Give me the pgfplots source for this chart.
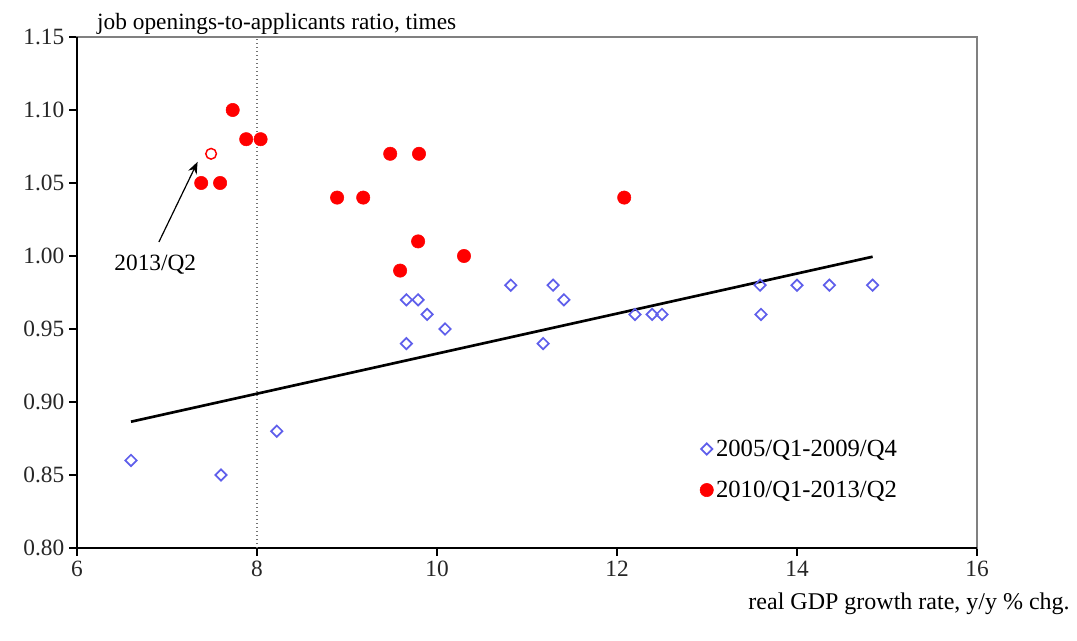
\documentclass[border=0pt]{standalone}
\usepackage{fontspec}
\setmainfont{Liberation Serif}
\usepackage{pgfplots}
\pgfplotsset{compat=1.18}
\usetikzlibrary{arrows.meta}
\definecolor{dblue}{RGB}{95,95,235}
\begin{document}
\begin{tikzpicture}
\useasboundingbox (-57.75pt,-69.75pt) rectangle (750pt,411pt);
\begin{axis}[
  at={(0,0)}, anchor=south west,
  scale only axis, width=675pt, height=383.25pt,
  xmin=6, xmax=16, ymin=0.80, ymax=1.15,
  xtick={6,8,10,12,14,16},
  ytick={0.80,0.85,0.90,0.95,1.00,1.05,1.10,1.15},
  yticklabel style={/pgf/number format/.cd, fixed, fixed zerofill, precision=2},
  /pgf/number format/assume math mode=true,
  tick label style={font=\fontsize{17.5}{20}\selectfont, text=black!85},
  xtick pos=bottom, ytick pos=left,
  tick align=outside, major tick length=6pt,
  tick style={black, line width=1.2pt},
  axis line style={draw=gray, line width=1.5pt},
  clip=false,
  legend style={draw=none, fill=none, at={(0.692,0.1536)}, anchor=west,
    font=\fontsize{18.5}{21}\selectfont, row sep=13pt, inner sep=0pt,
    /tikz/every even column/.append style={column sep=1pt}},
  legend cell align=left,
  legend image code/.code={\draw[mark repeat=1,#1] plot coordinates {(0cm,0cm)};},
]
\draw[black, line width=2pt] (rel axis cs:0,1) -- (rel axis cs:0,0) -- (rel axis cs:1,0);
\draw[gray!90!black, dotted, line width=1pt] (axis cs:8,0.80) -- (axis cs:8,1.15);

\addplot[only marks, mark=square, mark size=3pt, draw=dblue, mark options={rotate=45, line width=1.3pt, fill=white}] coordinates {
(6.60,0.86) (7.60,0.85) (8.22,0.88) (9.66,0.94) (9.66,0.97) (9.79,0.97)
(9.89,0.96) (10.09,0.95) (10.82,0.98) (11.18,0.94) (11.29,0.98) (11.41,0.97)
(12.20,0.96) (12.39,0.96) (12.50,0.96) (13.59,0.98) (13.60,0.96) (14.00,0.98)
(14.36,0.98) (14.84,0.98)};
\addlegendentry{2005/Q1-2009/Q4}

\addplot[only marks, mark=*, mark size=5pt, color=red] coordinates {
(7.38,1.05) (7.59,1.05) (7.73,1.10) (7.88,1.08) (8.04,1.08) (8.89,1.04)
(9.18,1.04) (9.48,1.07) (9.80,1.07) (9.79,1.01) (9.59,0.99) (10.30,1.00)
(12.08,1.04)};
\addlegendentry{2010/Q1-2013/Q2}

\addplot[only marks, mark=o, mark size=4pt, color=red, mark options={line width=1.1pt, fill=white}, forget plot] coordinates {(7.49,1.07)};

\addplot[black, line width=2pt, forget plot] coordinates {(6.60,0.8865) (14.84,0.9995)};

\draw[-{Stealth[length=9pt,width=7pt]}, line width=0.9pt] (axis cs:6.91,1.0096) -- (axis cs:7.34,1.0645);
\node[font=\fontsize{17.5}{20}\selectfont] at (axis cs:6.87,0.994) {2013/Q2};

\node[anchor=base west, inner sep=0pt, font=\fontsize{17.5}{20}\selectfont] at (rel axis cs:0.0222,1.0137) {job openings-to-applicants ratio, times};
\node[anchor=base east, inner sep=0pt, font=\fontsize{18}{20}\selectfont] at (rel axis cs:1.1033,-0.121) {real GDP growth rate, y/y \% chg.};
\end{axis}
\end{tikzpicture}
\end{document}
